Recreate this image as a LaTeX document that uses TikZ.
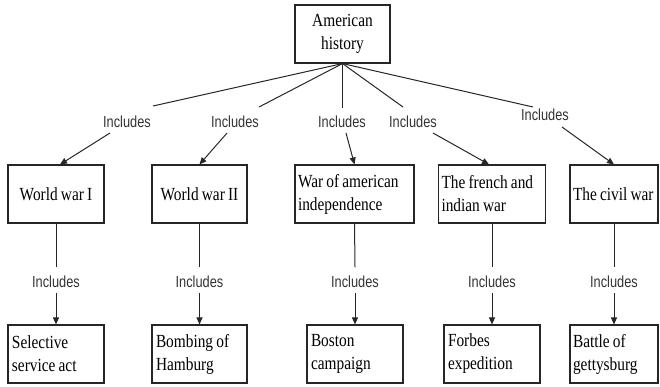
\documentclass[tikz,border=0pt]{standalone}
\usepackage{fontspec}
\setmainfont{Liberation Serif}[FakeStretch=0.83]
\newfontfamily\lblfont{Liberation Sans}[FakeStretch=0.8]
\usetikzlibrary{arrows.meta,calc}
% one unbreakable line with tighter word spacing
\newcommand\oneline[1]{\mbox{\spaceskip=3.2pt\relax #1}}
\begin{document}
\begin{tikzpicture}[x=1pt,y=-1pt,
  box/.style={draw=black!85, line width=1.1pt, minimum height=58pt,
    inner xsep=4pt, inner ysep=0pt, font=\fontsize{18.5}{23}\selectfont},
  lbl/.style={font=\lblfont\fontsize{16}{18}\selectfont, text=black!80, inner sep=0pt},
  link/.style={line width=1pt, draw=black!85},
  arr/.style={link, -{Triangle[length=7pt,width=6pt]}}]
\useasboundingbox (0,0) rectangle (660,386);

% root
\node[box, text width=87pt, align=center] (top) at (342.5,34) {American\\history};

% first level
\node[box, text width=88pt, align=center] (w1) at (56,194) {\oneline{World war I}};
\node[box, text width=87pt, align=center] (w2) at (199.5,194) {\oneline{World war II}};
\node[box, text width=113pt, inner xsep=3pt, align=left] (w3) at (354.5,194) {\oneline{War of american}\\\oneline{independence}};
\node[box, text width=101pt, inner xsep=3pt, align=left] (w4) at (492,194) {\oneline{The french and}\\\oneline{indian war}};
\node[box, text width=82pt, inner xsep=3pt, align=left] (w5) at (614,194) {\oneline{The civil war}};

% second level
\node[box, text width=88pt, align=left] (b1) at (56,354) {\oneline{Selective}\\\oneline{service act}};
\node[box, text width=87pt, align=left] (b2) at (199.5,354) {\oneline{Bombing of}\\\oneline{Hamburg}};
\node[box, text width=88pt, align=left] (b3) at (355,354) {\oneline{Boston}\\\oneline{campaign}};
\node[box, text width=88pt, align=left] (b4) at (492,354) {\oneline{Forbes}\\\oneline{expedition}};
\node[box, text width=82pt, inner xsep=3pt, align=left] (b5) at (614,354) {\oneline{Battle of}\\\oneline{gettysburg}};

% relation labels
\node[lbl] (L1) at (127,122) {Includes};
\node[lbl] (L2) at (235,122) {Includes};
\node[lbl] (L3) at (342,122) {Includes};
\node[lbl] (L4) at (413,122) {Includes};
\node[lbl] (L5) at (545,115) {Includes};
\node[lbl] (M1) at (56,282) {Includes};
\node[lbl] (M2) at (199.5,282) {Includes};
\node[lbl] (M3) at (355,282) {Includes};
\node[lbl] (M4) at (492,282) {Includes};
\node[lbl] (M5) at (614,282) {Includes};

% root to first level
\draw[link] (top.south) -- ($(L1)+(26,-16)$);
\draw[arr] ($(L1)+(-17,11)$) -- ($(w1.north)+(4,0)$);
\draw[link] (top.south) -- ($(L2)+(24,-15)$);
\draw[arr] ($(L2)+(-8,11)$) -- (w2.north);
\draw[link] (top.south) -- ($(L3)+(0.5,-14)$);
\draw[arr] ($(L3)+(4,11)$) -- (w3.north);
\draw[link] (top.south) -- ($(L4)+(-10,-15)$);
\draw[arr] ($(L4)+(20,11)$) -- ($(w4.north)+(-3,0)$);
\draw[link] (top.south) -- ($(L5)+(-12,-8)$);
\draw[arr] ($(L5)+(17,12)$) -- (w5.north);

% first level to second level
\foreach \i in {1,...,5}{
  \draw[link] (w\i.south) -- ($(M\i)+(0,-15)$);
  \draw[arr] ($(M\i)+(0,11)$) -- (b\i.north);
}
\end{tikzpicture}
\end{document}
